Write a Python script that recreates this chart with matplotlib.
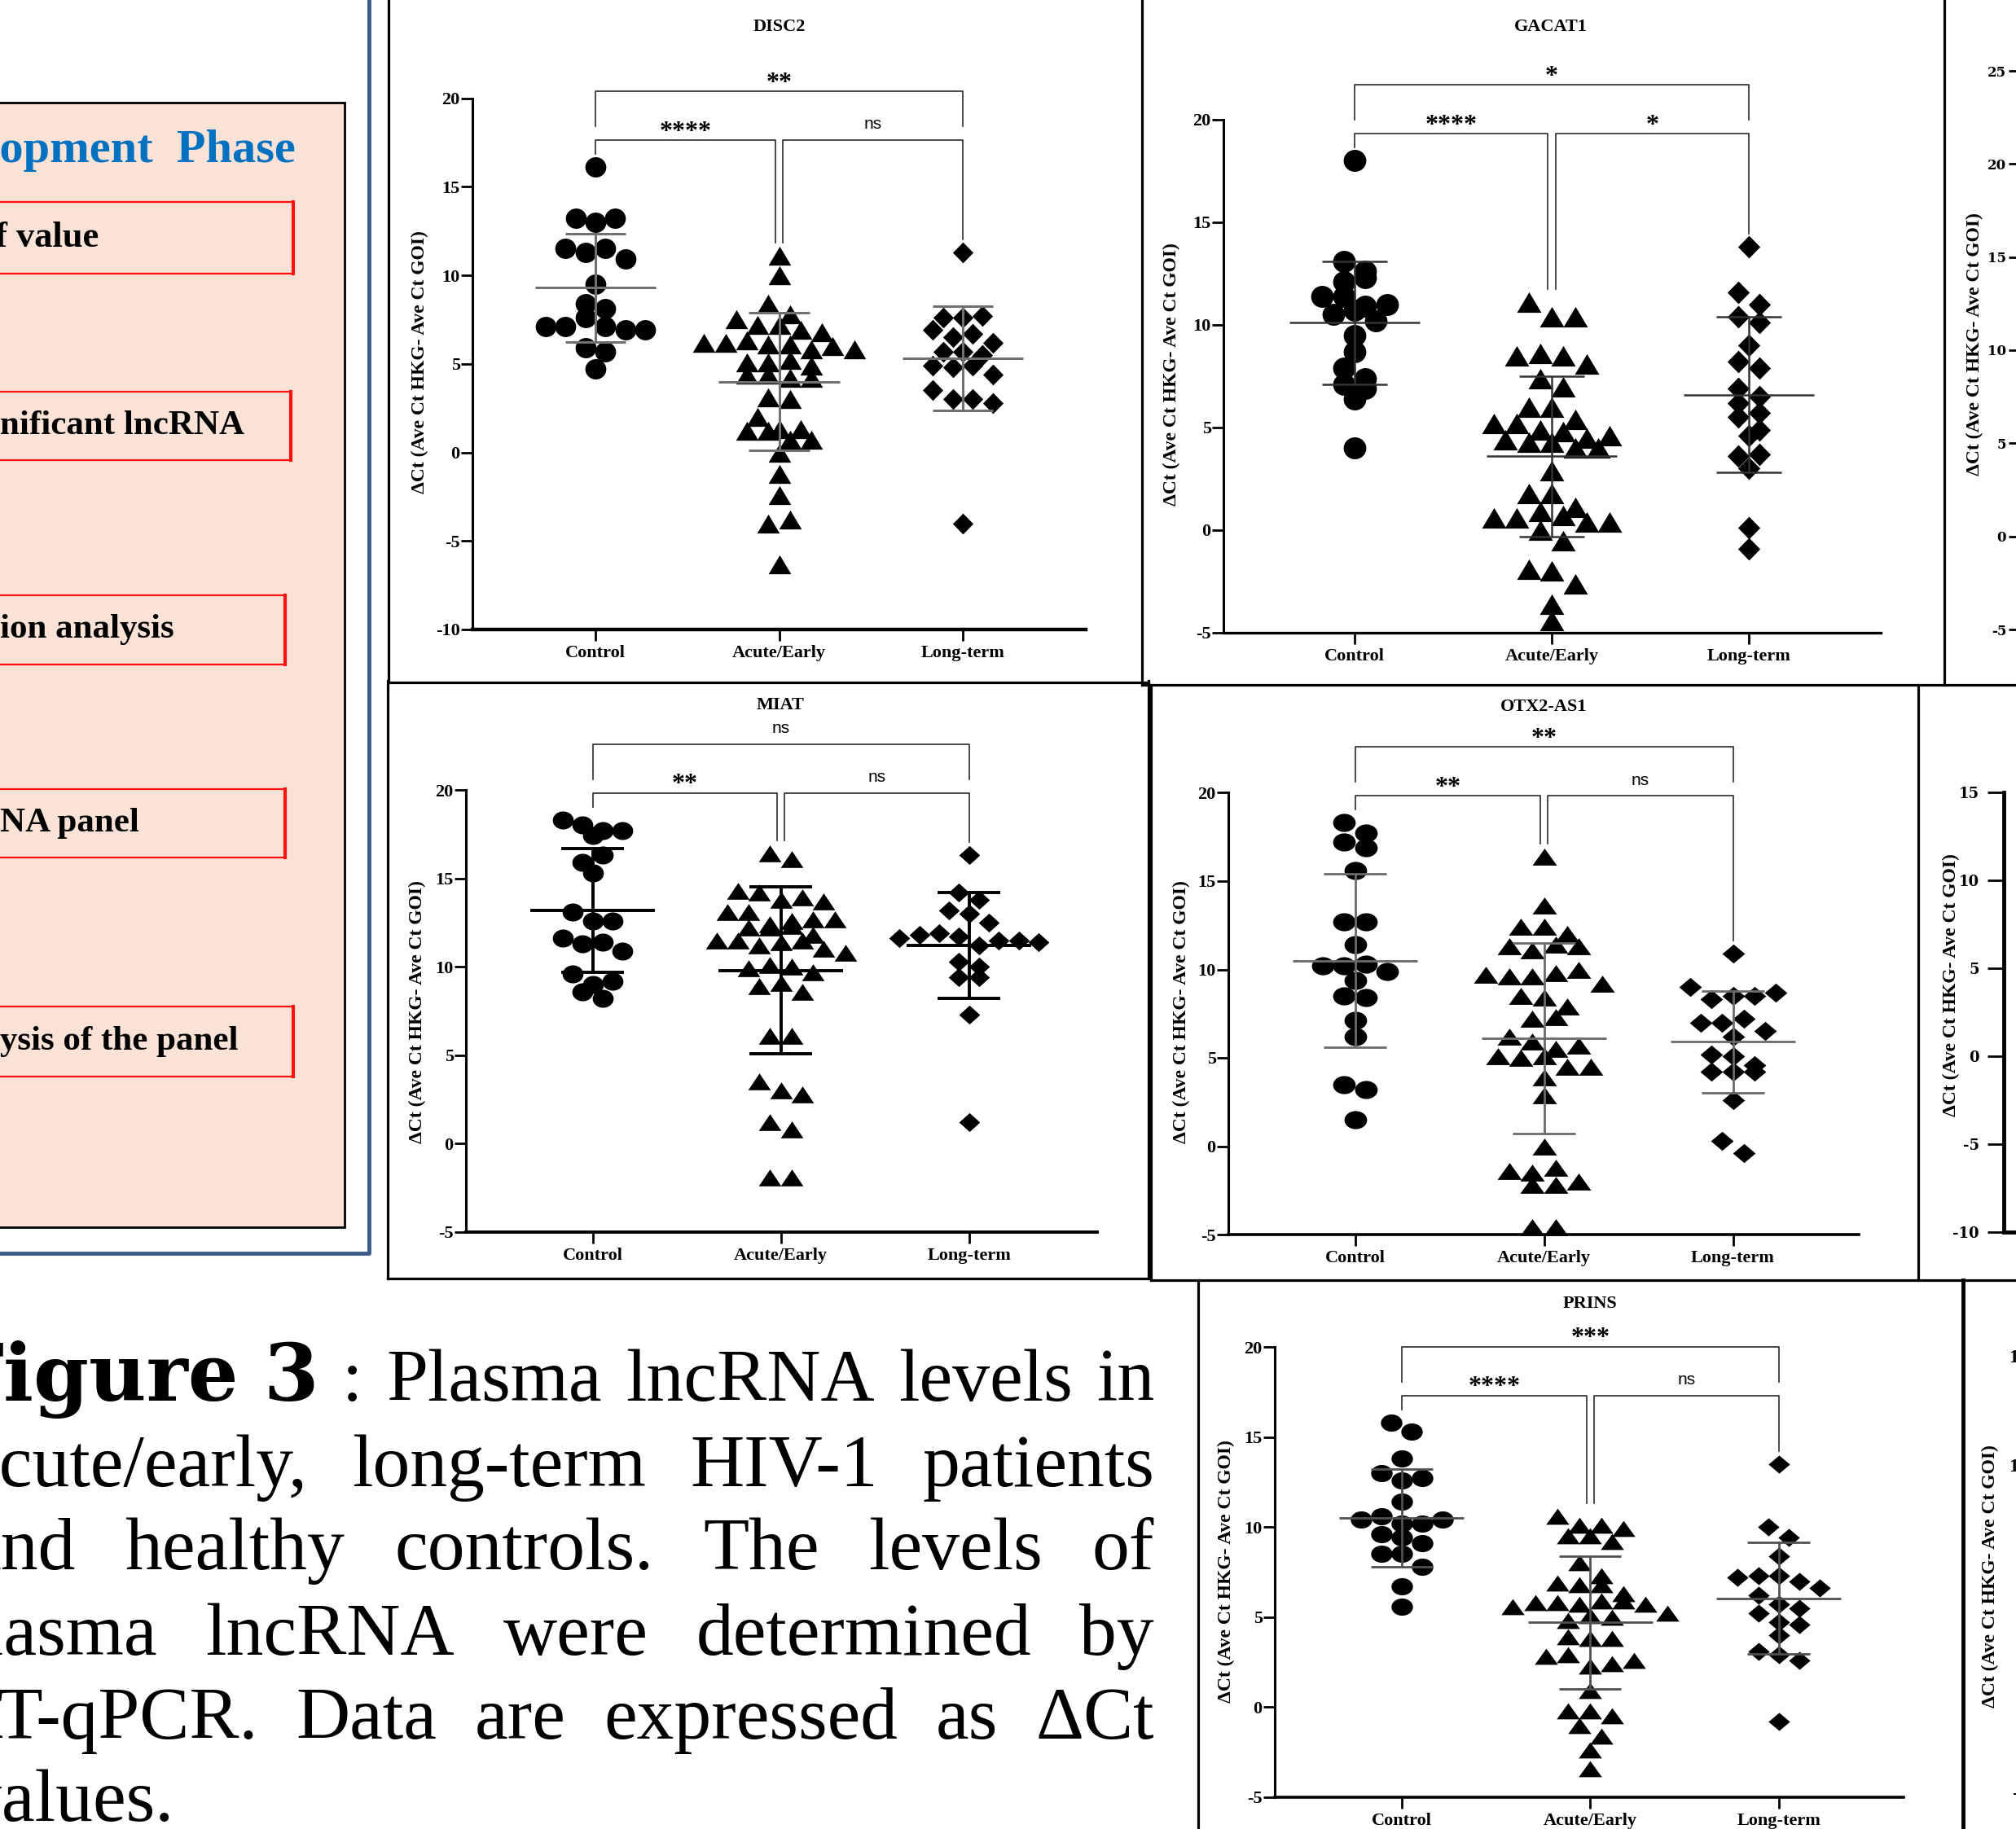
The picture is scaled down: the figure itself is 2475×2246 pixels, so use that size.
import matplotlib
matplotlib.use("Agg")
import matplotlib.pyplot as plt
import numpy as np
from matplotlib.path import Path
from matplotlib.transforms import Affine2D
from matplotlib.patches import Rectangle

plt.rcParams['font.family'] = ['Liberation Serif', 'DejaVu Serif']

W, H, DPI = 2475, 2246, 100

groups = ['Control', 'Acute/Early', 'Long-term']
ylabel = 'ΔCt (Ave Ct HKG- Ave Ct GOI)'

# ---- values ----
disc2_ctrl = [16.1, 13.2, 13.0, 13.2, 11.5, 11.3, 11.5, 10.9, 9.5, 8.4, 8.1, 7.1, 7.1, 7.6, 7.1, 6.9, 6.9, 5.9, 5.7, 4.7]
disc2_acute = [11.1, 10.0, 8.4, 7.8, 7.5, 7.2, 7.2, 6.9, 6.8, 6.2, 6.2, 6.3, 6.1, 6.1, 5.8, 6.0, 5.8, 5.1, 5.1, 5.2,
               4.9, 4.4, 4.4, 4.2, 4.2, 3.1, 3.0, 2.0, 1.3, 1.3, 1.2, 1.2, 0.7, 0.7, 0.0, -1.2, -2.4, -4.0, -3.8, -6.3]
disc2_long = [11.3, 7.6, 7.6, 7.7, 6.9, 6.5, 6.7, 6.2, 5.7, 5.7, 5.5, 4.9, 4.8, 4.9, 4.4, 3.5, 3.0, 3.0, 2.8, -4.0]
disc2_mean = [9.3, 4.0, 5.3]
disc2_sd = [3.05, 3.9, 2.95]
disc2_sig = ['****', 'ns', '**']

gacat1_ctrl = [18.0, 13.1, 12.6, 12.1, 12.3, 11.4, 11.4, 10.5, 10.9, 11.0, 10.7, 10.2, 9.5, 8.7, 7.9, 7.4, 7.1, 6.9, 6.4, 4.0]
gacat1_acute = [11.1, 10.4, 10.4, 8.5, 8.6, 8.5, 8.1, 7.4, 7.0, 6.0, 6.0, 5.4, 5.2, 5.2, 4.9, 4.8, 4.5, 4.4, 4.6, 4.3,
                4.3, 4.0, 4.0, 2.9, 1.8, 1.8, 1.1, 0.6, 0.6, 0.9, 0.7, 0.0, 0.4, 0.4, -0.5, -1.9, -2.0, -2.6, -3.6, -4.4]
gacat1_long = [13.8, 11.6, 11.0, 10.4, 10.1, 9.0, 8.2, 7.9, 6.9, 6.2, 6.5, 5.5, 5.7, 4.9, 4.6, 3.6, 3.7, 3.0, 0.1, -0.9]
gacat1_mean = [10.1, 3.6, 6.6]
gacat1_sd = [3.0, 3.9, 3.8]
gacat1_sig = ['****', '*', '*']

miat_ctrl = [18.3, 18.0, 17.7, 17.7, 17.4, 15.9, 16.3, 15.3, 13.1, 12.6, 12.6, 11.6, 11.3, 11.4, 10.9, 9.6, 9.0, 9.2, 8.6, 8.2]
miat_acute = [16.4, 16.1, 14.3, 14.2, 13.8, 13.9, 13.7, 13.1, 13.1, 12.4, 12.2, 12.2, 12.6, 12.7, 12.7, 12.3, 11.5, 11.8,
              11.5, 11.2, 11.4, 11.5, 11.0, 10.8, 9.9, 10.1, 10.0, 9.7, 8.9, 9.1, 8.6, 6.1, 6.1, 3.5, 3.0, 2.8, 1.2, 0.8, -1.9, -1.9]
miat_long = [16.3, 14.2, 13.8, 13.2, 13.0, 12.5, 11.6, 11.8, 11.9, 11.7, 11.2, 11.5, 11.5, 11.4, 10.3, 10.0, 9.4, 9.4, 7.3, 1.2]
miat_mean = [13.2, 9.8, 11.2]
miat_sd = [3.5, 4.7, 3.0]
miat_sig = ['**', 'ns', 'ns']

otx2_ctrl = [18.3, 17.7, 17.2, 16.9, 15.6, 12.7, 12.7, 11.4, 10.2, 10.2, 10.3, 9.9, 9.4, 8.5, 8.4, 7.1, 6.2, 3.5, 3.2, 1.5]
otx2_acute = [16.4, 13.6, 12.4, 12.4, 12.0, 11.3, 11.1, 11.4, 11.3, 9.7, 9.6, 9.6, 9.8, 10.0, 9.2, 8.5, 8.4, 7.9, 7.2, 7.3,
              6.2, 5.9, 5.1, 5.5, 5.7, 5.0, 5.1, 4.5, 4.5, 3.9, 2.9, 0.0, -1.4, -1.5, -1.2, -2.0, -2.2, -2.2, -4.6, -4.6]
otx2_long = [10.9, 9.0, 8.3, 8.5, 8.5, 8.7, 7.0, 7.0, 7.2, 6.2, 6.5, 5.2, 5.1, 4.6, 4.2, 4.2, 4.2, 2.6, 0.3, -0.4]
otx2_mean = [10.5, 6.1, 5.9]
otx2_sd = [4.9, 5.4, 2.87]
otx2_sig = ['**', 'ns', '**']

prins_ctrl = [15.8, 15.3, 13.8, 13.0, 12.6, 12.7, 11.4, 10.4, 10.6, 10.2, 10.2, 10.4, 9.6, 9.4, 9.1, 8.5, 8.5, 7.8, 6.7, 5.6]
prins_acute = [10.6, 10.1, 10.1, 9.9, 9.5, 9.5, 9.2, 8.0, 7.3, 6.9, 6.8, 6.8, 6.3, 5.6, 5.8, 5.8, 5.7, 5.9, 5.9, 5.7,
               4.8, 5.1, 5.0, 5.2, 3.9, 3.8, 3.8, 2.8, 2.9, 2.3, 2.4, 2.6, 0.9, -0.2, -0.2, -0.5, -1.0, -1.6, -2.4, -3.4]
prins_long = [13.5, 10.0, 9.4, 8.4, 7.2, 7.3, 7.3, 7.0, 6.6, 6.2, 5.7, 5.5, 5.2, 4.7, 4.6, 4.0, 3.1, 2.9, 2.6, -0.8]
prins_mean = [10.5, 4.7, 6.05]
prins_sd = [2.7, 3.7, 3.1]
prins_sig = ['****', 'ns', '***']

phase_title = 'Development  Phase'
step_labels = ['f value', 'nificant lncRNA', 'ion analysis', 'NA panel', 'ysis of the panel']

caption_lines = [
    ['Figure', '3', ':', 'Plasma', 'lncRNA', 'levels', 'in'],
    ['acute/early,', 'long-term', 'HIV-1', 'patients'],
    ['and', 'healthy', 'controls.', 'The', 'levels', 'of'],
    ['plasma', 'lncRNA', 'were', 'determined', 'by'],
    ['RT-qPCR.', 'Data', 'are', 'expressed', 'as', 'ΔCt'],
    ['values.'],
]

# ---------------------------------------------------------------
fig = plt.figure(figsize=(W / DPI, H / DPI), dpi=DPI)
bg = fig.add_axes([0, 0, 1, 1])
bg.set_xlim(0, W)
bg.set_ylim(H, 0)
bg.axis('off')


def px_axes(l, t, r, b):
    ax = fig.add_axes([l / W, 1 - b / H, (r - l) / W, (b - t) / H])
    ax.patch.set_alpha(0)
    return ax


def shapes(f):
    circ = Path.unit_circle().transformed(Affine2D().scale(1, f))
    tri = Path([(-1, -0.866), (1, -0.866), (0, 0.866), (-1, -0.866)], closed=True)
    tri = tri.transformed(Affine2D().scale(1, f))
    dia = Path([(0, 1), (1, 0), (0, -1), (-1, 0), (0, 1)], closed=True)
    dia = dia.transformed(Affine2D().scale(0.95, f))
    return [circ, tri, dia]


def row_offsets(vals, ppu, ppc, ms_px):
    # points grouped in horizontal rows, spread side by side like a scatter dot plot
    vals = np.asarray(vals, float)
    order = np.argsort(-vals, kind='stable')
    offs = np.zeros(len(vals))

    def flush(row):
        row = sorted(row)
        n = len(row)
        for k, idx in enumerate(row):
            offs[idx] = (k - (n - 1) / 2) * 0.95 * ms_px / ppc

    row = []
    for idx in order:
        if row and (vals[row[0]] - vals[idx]) * ppu > 0.6 * ms_px:
            flush(row)
            row = []
        row.append(idx)
    flush(row)
    return offs


panels = [
    dict(name='DISC2', data=[disc2_ctrl, disc2_acute, disc2_long], mean=disc2_mean, sd=disc2_sd, sig=disc2_sig,
         box=(580, 120.5, 1333, 773), c0=731, sp=225.5, ylim=(-10, 20), title=(957, 33), ylab=(515, 445),
         ms=18.5, f=0.97, lc='#707070', lw=2.2, xspine=3.2),
    dict(name='GACAT1', data=[gacat1_ctrl, gacat1_acute, gacat1_long], mean=gacat1_mean, sd=gacat1_sd, sig=gacat1_sig,
         box=(1502, 147, 2309, 777), c0=1663, sp=242, ylim=(-5, 20), title=(1904, 33), ylab=(1438, 460),
         ms=20, f=0.97, lc='#333333', lw=1.8, xspine=2.4),
    dict(name='MIAT', data=[miat_ctrl, miat_acute, miat_long], mean=miat_mean, sd=miat_sd, sig=miat_sig,
         box=(572, 970, 1347, 1513), c0=727.6, sp=231, ylim=(-5, 20), title=(958, 866), ylab=(512, 1243),
         ms=18.5, f=0.86, lc='black', lw=2.8, xspine=2.8),
    dict(name='OTX2-AS1', data=[otx2_ctrl, otx2_acute, otx2_long], mean=otx2_mean, sd=otx2_sd, sig=otx2_sig,
         box=(1508, 973.5, 2282, 1516), c0=1663.5, sp=232, ylim=(-5, 20), title=(1895, 868), ylab=(1450, 1243),
         ms=20, f=0.8, lc='#6a6a6a', lw=2.0, xspine=2.6),
    dict(name='PRINS', data=[prins_ctrl, prins_acute, prins_long], mean=prins_mean, sd=prins_sd, sig=prins_sig,
         box=(1565, 1654, 2337, 2207), c0=1720.8, sp=231.4, ylim=(-5, 20), title=(1952, 1601), ylab=(1505, 1930),
         ms=19, f=0.8, lc='#505050', lw=2.0, xspine=2.6),
]

for p in panels:
    l, t, r, b = p['box']
    ax = px_axes(l, t, r, b)
    y0, y1 = p['ylim']
    ppu = (b - t) / (y1 - y0)
    ax.set_xlim((l - p['c0']) / p['sp'], (r - p['c0']) / p['sp'])
    ax.set_ylim(y0, y1)
    marks = shapes(p['f'])
    for i, vals in enumerate(p['data']):
        ms = p['ms'] * (1.08 if i == 1 else 1.0)
        offs = row_offsets(vals, ppu, p['sp'], ms * DPI / 72)
        ax.scatter(i + offs, vals, s=ms ** 2, marker=marks[i], color='black',
                   linewidths=0, zorder=2, clip_on=False)
        m, s = p['mean'][i], p['sd'][i]
        ax.hlines(m, i - 0.33, i + 0.33, color=p['lc'], lw=p['lw'], zorder=3)
        ax.vlines(i, m - s, m + s, color=p['lc'], lw=p['lw'], zorder=3)
        ax.hlines([m - s, m + s], i - 0.165, i + 0.165, color=p['lc'], lw=p['lw'], zorder=3)

    # significance brackets
    tops = [max(v) for v in p['data']]
    low = max(tops) + 33 / ppu
    top = low + 60 / ppu
    leg = [v + 16 / ppu for v in tops]
    kw = dict(color='#2a2a2a', lw=1.2, clip_on=False, zorder=1)
    ax.plot([0, 0, 0.98, 0.98], [leg[0], low, low, leg[1]], **kw)
    ax.plot([1.02, 1.02, 2, 2], [leg[1], low, low, leg[2]], **kw)
    ax.plot([0, 0, 2, 2], [top - 43 / ppu, top, top, top - 43 / ppu], **kw)
    for (xm, yb), lab in zip([(0.49, low), (1.51, low), (1.0, top)], p['sig']):
        if lab == 'ns':
            ax.annotate(lab, (xm, yb), xytext=(0, 10), textcoords='offset points', ha='center',
                        va='baseline', fontsize=15, family='Liberation Sans', annotation_clip=False)
        else:
            ax.annotate(lab, (xm, yb), xytext=(0, 2), textcoords='offset points', ha='center',
                        va='baseline', fontsize=23, fontweight='bold', annotation_clip=False)

    for side in ['top', 'right']:
        ax.spines[side].set_visible(False)
    ax.spines['left'].set_linewidth(2.2)
    ax.spines['bottom'].set_linewidth(p['xspine'])
    yt = np.arange(y0, y1 + 1, 5)
    ax.set_yticks(yt, [str(v) for v in yt], fontweight='bold', fontsize=16)
    ax.set_xticks(range(3), groups, fontweight='bold', fontsize=16)
    ax.tick_params(axis='y', length=10, width=2, pad=1)
    ax.tick_params(axis='x', length=10, width=2, pad=4)
    bg.text(*p['title'], p['name'], ha='center', va='center', fontsize=16, fontweight='bold')
    bg.text(*p['ylab'], ylabel, rotation=90, ha='center', va='center', fontsize=17, fontweight='bold')

# partial panels cut by the right edge
for (l, t, b, lim, tl, pad, fam, fs, sw, ylab_xy) in [
        (2478, 87, 773, (-5, 25), 12, 3, 'DejaVu Serif', 12, 2.0, (2424, 423)),
        (2460, 973, 1513, (-10, 15), 20, 10, 'DejaVu Serif', 13, 3.5, (2395, 1210)),
        (2505, 1665, 2201, (-5, 15), 12, 3, 'Liberation Serif', 17, 2.2, (2443, 1936))]:
    ax = px_axes(l, t, 2800, b)
    ax.set_ylim(*lim)
    ax.set_xlim(0, 1)
    for side in ['top', 'right']:
        ax.spines[side].set_visible(False)
    ax.spines['bottom'].set_visible(l == 2460)
    ax.spines['left'].set_linewidth(sw)
    ax.spines['bottom'].set_linewidth(sw)
    yt = np.arange(lim[0], lim[1] + 1, 5)
    ax.set_yticks(yt, [str(v) for v in yt], fontweight='bold', fontsize=fs, family=fam)
    ax.set_xticks([])
    ax.tick_params(axis='y', length=tl * 72 / DPI, width=2, pad=pad * 72 / DPI)
    bg.text(*ylab_xy, ylabel, rotation=90, ha='center', va='center', fontsize=17, fontweight='bold')

# panel frames
frame_segments = [
    ([477, 477], [-10, 838]), ([1402, 1402], [-10, 841]), ([477, 1410], [838, 838]),
    ([1402, 2480], [841, 841]), ([2387, 2387], [-10, 841]),
    ([476, 476], [836, 1570]), ([1410, 1410], [836, 1570]), ([476, 1410], [1570, 1570]),
    ([1413, 1413], [841, 1572]), ([2355, 2355], [841, 1572]), ([1413, 2480], [1572, 1572]),
    ([1471, 1471], [1572, 2260]),
]
for xs, ys in frame_segments:
    bg.plot(xs, ys, color='black', lw=2.3, solid_capstyle='projecting')
bg.plot([2410, 2410], [1572, 2260], color='black', lw=3.5)

# left flow-chart panel
bg.add_patch(Rectangle((-10, 126), 433, 1381, facecolor='#FAE3D6', edgecolor='black', lw=2))
bg.plot([453, 453, -10], [-10, 1539, 1539], color='#3c5a8c', lw=3.5)
bg.text(363, 185, phase_title, ha='right', va='center', fontsize=42, fontweight='bold', color='#0070C0')
red_boxes = [(248, 336, 360), (481, 565, 357), (731, 816, 350), (969, 1053, 350), (1236, 1322, 360)]
for (tb, bb, rr), lab in zip(red_boxes, step_labels):
    bg.add_patch(Rectangle((-10, tb), rr + 10, bb - tb, facecolor='none', edgecolor='#ff1010', lw=1.6))
    bg.plot([rr, rr], [tb, bb], color='#ff1010', lw=3)
    bg.text(-6 if lab.startswith('f') else 0, (tb + bb) / 2, lab, ha='left', va='center',
            fontsize=32 if lab.startswith('f') else 31, fontweight='bold')

# caption, justified
renderer = fig.canvas.get_renderer()
cap_bold = dict(family='DejaVu Serif', fontweight='bold', fontsize=70)
cap_reg = dict(family='Liberation Serif', fontsize=66)


def width(s, style):
    t = bg.text(0, 0, s, **style)
    w = t.get_window_extent(renderer).width
    t.remove()
    return w


baselines = [1720, 1825, 1927, 2032, 2135, 2236]
hidden = ['F', 'a', 'a', 'pl', 'R', 'v']
vis_x = [5, 0, 1, 5, 2, 2]
right_edge = 1417
for li, words in enumerate(caption_lines):
    styles = [cap_bold if (li == 0 and wi < 2) else cap_reg for wi in range(len(words))]
    ws = [width(w, s) for w, s in zip(words, styles)]
    x0 = vis_x[li] - width(hidden[li], styles[0])
    if len(words) > 1:
        gap = (right_edge - x0 - sum(ws)) / (len(words) - 1)
    else:
        gap = 0
    x = x0
    for w, s, wd in zip(words, styles, ws):
        bg.text(x, baselines[li], w, ha='left', va='baseline', **s)
        x += wd + gap

fig.savefig('out.png', dpi=DPI)
